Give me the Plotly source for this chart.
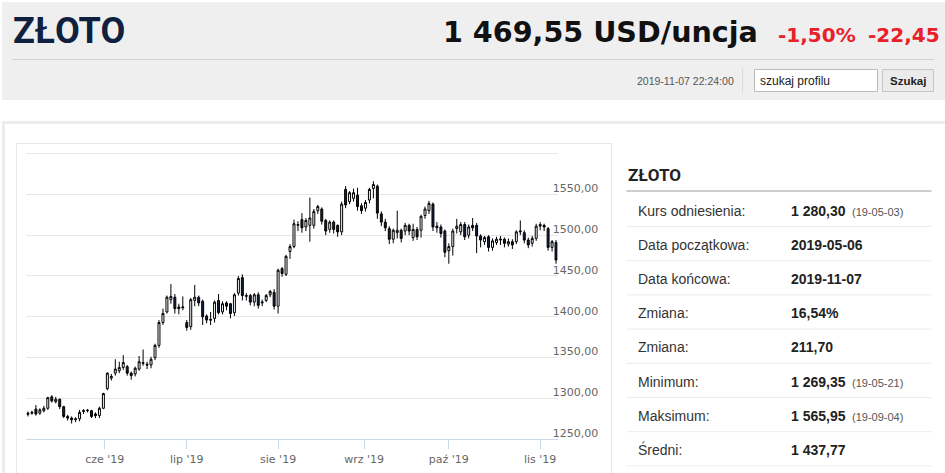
import pandas as pd
import plotly.graph_objects as go

W, H = 945, 473

# notowania dzienne (USD/uncja), 2019-05-06 .. 2019-11-07, dni robocze
dates = pd.bdate_range("2019-05-06", "2019-11-07")

open_ = [1280.5, 1282, 1287, 1282, 1285, 1288, 1302, 1296, 1299, 1290,
         1278, 1276, 1274, 1275, 1284, 1285, 1285, 1281, 1279, 1288,
         1312, 1325, 1331, 1334, 1338, 1339, 1331, 1330, 1336, 1344,
         1342, 1341, 1350, 1365, 1393, 1406, 1421, 1424, 1412, 1411,
         1393, 1388, 1420, 1424, 1419, 1401, 1397, 1398, 1420, 1406,
         1417, 1416, 1405, 1429, 1448, 1425, 1426, 1418, 1427, 1417,
         1420, 1427, 1430, 1413, 1459, 1452, 1480, 1486, 1512, 1519,
         1510, 1512, 1512, 1530, 1532, 1518, 1507, 1516, 1512, 1504,
         1556, 1541, 1545, 1549, 1536, 1533, 1543, 1557, 1560, 1526,
         1516, 1508, 1495, 1503, 1506, 1505, 1512, 1497, 1507, 1506,
         1524, 1530, 1538, 1511, 1510, 1505, 1481, 1486, 1508, 1504,
         1513, 1500, 1512, 1512, 1499, 1492, 1498, 1485, 1491, 1494,
         1495, 1489, 1492, 1492, 1504, 1503, 1494, 1490, 1496, 1511,
         1512, 1508, 1485, 1491]
high = [1284, 1285, 1292, 1288, 1291, 1302, 1304, 1302, 1300, 1291,
        1280, 1278, 1277, 1286, 1287, 1287, 1286, 1283, 1290, 1307,
        1332, 1330, 1348, 1345, 1353, 1341, 1333, 1339, 1352, 1360,
        1345, 1351, 1367, 1396, 1410, 1426, 1440, 1428, 1416, 1425,
        1396, 1423, 1439, 1426, 1421, 1403, 1406, 1420, 1428, 1419,
        1419, 1417, 1429, 1450, 1452, 1429, 1428, 1429, 1430, 1421,
        1428, 1433, 1434, 1459, 1461, 1476, 1489, 1519, 1517, 1527,
        1521, 1546, 1532, 1537, 1534, 1520, 1518, 1518, 1513, 1541,
        1560, 1554, 1557, 1558, 1539, 1543, 1558, 1565.95, 1562, 1529,
        1520, 1511, 1508, 1530, 1508, 1515, 1514, 1514, 1510, 1525,
        1535, 1542, 1540, 1516, 1513, 1507, 1490, 1508, 1520, 1516,
        1516, 1513, 1521, 1515, 1501, 1499, 1500, 1496, 1498, 1499,
        1497, 1496, 1495, 1506, 1518, 1506, 1497, 1499, 1514, 1516,
        1514, 1510, 1494, 1494]
low = [1278, 1280, 1279, 1280, 1283, 1286, 1295, 1294, 1287, 1276,
       1273, 1269.35, 1271, 1272, 1281, 1283, 1276, 1276, 1276, 1287,
       1310, 1322, 1328, 1331, 1335, 1328, 1323, 1327, 1334, 1340,
       1336, 1337, 1347, 1362, 1390, 1404, 1416, 1404, 1403, 1408,
       1383, 1384, 1413, 1413, 1390, 1392, 1390, 1393, 1403, 1403,
       1408, 1398, 1401, 1426, 1420, 1420, 1414, 1413, 1410, 1413,
       1418, 1424, 1409, 1404, 1449, 1450, 1471, 1484, 1505, 1503,
       1505, 1492, 1508, 1526, 1513, 1500, 1503, 1502, 1498, 1500,
       1533, 1538, 1541, 1530, 1526, 1529, 1539, 1545, 1520, 1511,
       1505, 1489, 1490, 1496, 1491, 1500, 1500, 1493, 1494, 1497,
       1520, 1526, 1505, 1503, 1497, 1473, 1465, 1475, 1502, 1500,
       1494, 1496, 1505, 1478, 1485, 1488, 1480, 1481, 1488, 1488,
       1485, 1486, 1483, 1489, 1500, 1490, 1484, 1486, 1493, 1506,
       1505, 1481, 1480, 1465]
close = [1282, 1283, 1281, 1286, 1288, 1301, 1297, 1299, 1290, 1278,
         1276, 1274, 1275, 1283, 1285, 1285.5, 1278, 1279, 1288, 1306,
         1331, 1327, 1336, 1338, 1344, 1331, 1328, 1337, 1345, 1343,
         1341, 1348, 1365, 1393, 1404, 1424, 1425, 1410, 1410, 1412,
         1387, 1421, 1424, 1417, 1400, 1396, 1396, 1418, 1405, 1416,
         1413, 1404, 1427, 1447, 1426, 1426, 1418, 1427, 1414, 1418,
         1426, 1431, 1413, 1457, 1453, 1474, 1486, 1514, 1513, 1509,
         1518, 1521, 1529, 1535, 1517, 1505, 1516, 1507, 1504, 1538,
         1537, 1552, 1552, 1535, 1530, 1540, 1556, 1562, 1527, 1516,
         1509, 1495, 1506, 1506, 1496, 1512, 1505, 1507, 1498, 1523,
         1532, 1539, 1510, 1509, 1502, 1479, 1486, 1505, 1511, 1513,
         1498, 1510, 1509, 1499, 1494, 1497, 1485, 1493, 1495, 1495,
         1490, 1492, 1488, 1504, 1505, 1494, 1488, 1496, 1511, 1513,
         1510, 1485, 1492, 1469.55]

month_ticks = ["2019-05-31 08:00", "2019-07-01", "2019-08-01",
               "2019-08-30 16:00", "2019-10-01", "2019-11-01"]
month_labels = ["cze '19", "lip '19", "sie '19", "wrz '19", "paź '19", "lis '19"]
price_ticks = [1250, 1300, 1350, 1400, 1450, 1500, 1550, 1600]
price_labels = [f"{v:.2f}".replace(".", ",") for v in price_ticks[:-1]] + [""]

table_labels = ["Kurs odniesienia:", "Data początkowa:", "Data końcowa:", "Zmiana:",
                "Zmiana:", "Minimum:", "Maksimum:", "Średni:"]
table_values = ["1 280,30", "2019-05-06", "2019-11-07", "16,54%",
                "211,70", "1 269,35", "1 565,95", "1 437,77"]
table_dates = ["(19-05-03)", "", "", "", "", "(19-05-21)", "(19-09-04)", ""]


def px(x):
    return x / W


def py(y):
    return 1 - y / H


def txt(x, y, s, size, color, family="Liberation Sans", bold=False, anchor="left"):
    return dict(xref="paper", yref="paper", x=px(x), y=py(y), text=s, showarrow=False,
                xanchor=anchor, yanchor="middle",
                font=dict(family=family, size=size, color=color,
                          weight="bold" if bold else "normal"))


def box(x0, y0, x1, y1, fill=None, line=None, lw=1):
    return dict(type="rect", xref="paper", yref="paper", layer="below",
                x0=px(x0), x1=px(x1), y0=py(y1), y1=py(y0),
                fillcolor=fill or "rgba(0,0,0,0)",
                line=dict(color=line or "rgba(0,0,0,0)", width=lw if line else 0))


def hline(x0, x1, y, color, lw=1):
    return dict(type="line", xref="paper", yref="paper", layer="below",
                x0=px(x0), x1=px(x1), y0=py(y), y1=py(y), line=dict(color=color, width=lw))


fig = go.Figure()
fig.add_trace(go.Candlestick(
    x=dates, open=open_, high=high, low=low, close=close,
    increasing=dict(line=dict(color="#000000", width=1), fillcolor="#ffffff"),
    decreasing=dict(line=dict(color="#000000", width=1), fillcolor="#14223d"),
    whiskerwidth=0, showlegend=False, hoverinfo="x+y"))

shapes = [
    box(2, 2, 945, 100, fill="#efefef"),
    hline(12, 934, 59.5, "#d3d3d3"),
    dict(type="line", xref="paper", yref="paper", x0=px(742.5), x1=px(742.5),
         y0=py(93), y1=py(68), line=dict(color="#dadada", width=1)),
    box(754.5, 69.5, 877.5, 91.5, fill="#ffffff", line="#bcbcbc"),
    box(882.5, 69.5, 933.5, 91.5, fill="#ebebeb", line="#c6c6c6"),
    box(3.5, 122.5, 950, 480, line="#ececec", lw=3),
    box(16.5, 143.5, 611.5, 480, line="#e6e6e6"),
    hline(626.5, 931.5, 191, "#9c9c9c"),
]
for k in range(8):
    shapes.append(hline(626.5, 931.5, 226.5 + 34.2 * k, "#ececec"))

ann = [
    txt(11, 31, "ZŁOTO", 36, "#10203f", family="Roboto", bold=True),
    txt(441, 32, "1 469,55 USD/uncja", 28.6, "#111111", family="DejaVu Sans", bold=True),
    txt(776, 35, "-1,50%", 20, "#e8202a", family="DejaVu Sans", bold=True),
    txt(866, 35, "-22,45", 20, "#e8202a", family="DejaVu Sans", bold=True),
    txt(635, 81, "2019-11-07 22:24:00", 10.5, "#555555"),
    txt(758, 80.5, "szukaj profilu", 12, "#222222"),
    txt(908, 80.5, "Szukaj", 11.5, "#222222", bold=True, anchor="center"),
    txt(626, 175, "ZŁOTO", 17, "#222222", family="Roboto", bold=True),
]
for k, (lab, val, dt) in enumerate(zip(table_labels, table_values, table_dates)):
    yc = 210.5 + 34.2 * k
    ann.append(txt(636, yc, lab, 14, "#333333"))
    ann.append(txt(789, yc, val, 14, "#222222", bold=True))
    if dt:
        ann.append(txt(850, yc + 1, dt, 11, "#555555"))

fig.update_layout(
    width=W, height=H,
    margin=dict(l=0, r=0, t=0, b=0),
    paper_bgcolor="#ffffff", plot_bgcolor="#ffffff",
    shapes=shapes, annotations=ann,
    xaxis=dict(
        domain=[px(26.3), px(557.7)],
        range=["2019-05-03 14:00", "2019-11-07 10:00"],
        rangebreaks=[dict(bounds=["sat", "mon"])],
        rangeslider=dict(visible=False),
        tickmode="array", tickvals=month_ticks, ticktext=month_labels,
        showgrid=False, showline=True, linecolor="#ccd6eb", linewidth=1,
        ticks="outside", ticklen=9, tickcolor="#ccd6eb",
        tickfont=dict(family="DejaVu Sans", size=11, color="#666666"),
    ),
    yaxis=dict(
        domain=[py(439.3), py(149.4)],
        range=[1250, 1605], side="right",
        tickmode="array", tickvals=price_ticks, ticktext=price_labels,
        showgrid=True, gridcolor="#e6e6e6", gridwidth=1, zeroline=False,
        showline=False, ticks="",
        ticklabelshift=-6, ticklabelstandoff=-6,
        tickfont=dict(family="DejaVu Sans", size=11, color="#666666"),
    ),
)

# strona bez marginesu przegladarki, zeby wykres lezal od (0,0)
fig.write_html("out.html", config={"displayModeBar": False},
               post_script="document.body.style.margin='0';"
               "document.documentElement.style.overflow='hidden';")
